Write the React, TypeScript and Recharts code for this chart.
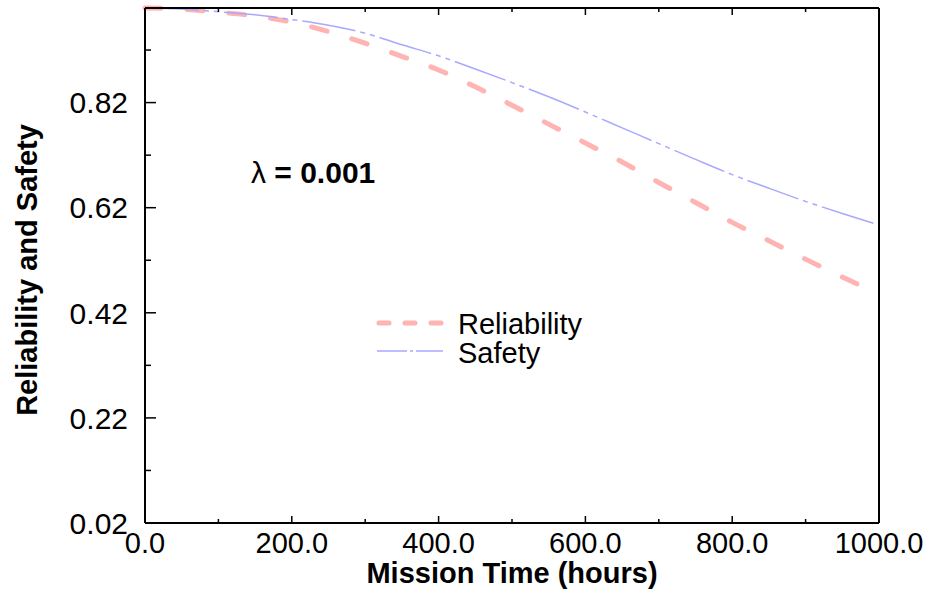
import { LineChart, Line, XAxis, YAxis, Legend } from 'recharts'

const FONT = '"Liberation Sans", Arial, Helvetica, sans-serif'
const REL_COLOR = '#ffb3b3'
const SAF_COLOR = '#a8a8ff'
const AXIS_COLOR = '#000'

// mission time, hours
const TIME = [0, 50, 100, 150, 200, 250, 300, 350, 400, 450, 500, 550, 600, 650, 700, 750, 800, 850, 900, 950, 1000]
const RELIABILITY = [1.0, 0.998, 0.992, 0.985, 0.973, 0.955, 0.933, 0.908, 0.882, 0.85, 0.815, 0.779, 0.743, 0.707, 0.668, 0.63, 0.592, 0.557, 0.522, 0.488, 0.456]
const SAFETY = [1.0, 0.998, 0.993, 0.987, 0.978, 0.967, 0.952, 0.93, 0.909, 0.884, 0.858, 0.831, 0.802, 0.772, 0.742, 0.712, 0.683, 0.657, 0.632, 0.609, 0.587]

const X_TICKS = [0, 100, 200, 300, 400, 500, 600, 700, 800, 900, 1000]
const X_MAJOR = [0, 200, 400, 600, 800, 1000]
const Y_TICKS = [0.02, 0.12, 0.22, 0.32, 0.42, 0.52, 0.62, 0.72, 0.82, 0.92]
const Y_MAJOR = [0.02, 0.22, 0.42, 0.62, 0.82]

const data = TIME.map((t, i) => ({ t, reliability: RELIABILITY[i], safety: SAFETY[i] }))

type TickProps = { x?: number; y?: number; payload?: { value: number } }

function LeftTick({ x = 0, y = 0, payload }: TickProps) {
  const v = payload?.value ?? 0
  const major = Y_MAJOR.includes(v)
  return (
    <g>
      <line x1={x} x2={x + (major ? 11 : 6)} y1={y} y2={y} stroke={AXIS_COLOR} strokeWidth={1.5} />
      {major && (
        <text x={x - 17} y={y} dy="0.36em" textAnchor="end" fontSize={30} fontFamily={FONT} fill="#000">
          {v.toFixed(2)}
        </text>
      )}
    </g>
  )
}

function RightTick({ x = 0, y = 0, payload }: TickProps) {
  const major = Y_MAJOR.includes(payload?.value ?? 0)
  return <line x1={x} x2={x - (major ? 11 : 6)} y1={y} y2={y} stroke={AXIS_COLOR} strokeWidth={1.5} />
}

function BottomTick({ x = 0, y = 0, payload }: TickProps) {
  const v = payload?.value ?? 0
  const major = X_MAJOR.includes(v)
  return (
    <g>
      <line x1={x} x2={x} y1={y} y2={y - (major ? 7 : 4)} stroke={AXIS_COLOR} strokeWidth={1.5} />
      {major && (
        <text x={x} y={y + 30} textAnchor="middle" fontSize={29} fontFamily={FONT} fill="#000">
          {v.toFixed(1)}
        </text>
      )}
    </g>
  )
}

function TopTick({ x = 0, y = 0, payload }: TickProps) {
  const major = X_MAJOR.includes(payload?.value ?? 0)
  return <line x1={x} x2={x} y1={y} y2={y + (major ? 7 : 4)} stroke={AXIS_COLOR} strokeWidth={1.5} />
}

function LegendBox() {
  return (
    <svg width={240} height={70} style={{ display: 'block' }}>
      <line x1={9} x2={73} y1={23} y2={23} stroke={REL_COLOR} strokeWidth={5} strokeLinecap="round" strokeDasharray="10 16" />
      <text x={88} y={34} fontSize={29} fontFamily={FONT} fill="#000">Reliability</text>
      <line x1={7} x2={73} y1={51} y2={51} stroke={SAF_COLOR} strokeWidth={1.5} strokeDasharray="30 3 3 3" />
      <text x={88} y={63} fontSize={29} fontFamily={FONT} fill="#000">Safety</text>
    </svg>
  )
}

const axisLine = { stroke: AXIS_COLOR, strokeWidth: 2 }

export default function App() {
  return (
    <div style={{ position: 'relative', width: 927, height: 597, background: '#fff' }}>
      <style>{'body{margin:0;background:#fff}'}</style>
      <LineChart width={927} height={597} data={data} margin={{ top: 0, right: 0, bottom: 0, left: 0 }}>
        <XAxis
          dataKey="t" type="number" domain={[0, 1000]} ticks={X_TICKS} interval={0}
          height={74} tickSize={0} tickMargin={0} tickLine={false} axisLine={axisLine}
          tick={(p: TickProps) => <BottomTick {...p} />}
        />
        <XAxis
          xAxisId="top" orientation="top" dataKey="t" type="number" domain={[0, 1000]} ticks={X_TICKS} interval={0}
          height={8} tickSize={0} tickMargin={0} tickLine={false} axisLine={axisLine}
          tick={(p: TickProps) => <TopTick {...p} />}
        />
        <YAxis
          type="number" domain={[0.02, 1.0]} ticks={Y_TICKS} interval={0}
          width={145} tickSize={0} tickMargin={0} tickLine={false} axisLine={axisLine}
          tick={(p: TickProps) => <LeftTick {...p} />}
        />
        <YAxis
          yAxisId="right" orientation="right" type="number" domain={[0.02, 1.0]} ticks={Y_TICKS} interval={0}
          width={48} tickSize={0} tickMargin={0} tickLine={false} axisLine={axisLine}
          tick={(p: TickProps) => <RightTick {...p} />}
        />
        <Legend
          layout="horizontal" verticalAlign="middle" align="center"
          wrapperStyle={{ left: 370, top: 300, width: 240 }}
          content={() => <LegendBox />}
        />
        <Line
          dataKey="reliability" type="monotone" stroke={REL_COLOR} strokeWidth={5}
          strokeLinecap="round" strokeDasharray="16 26" dot={false} activeDot={false}
          isAnimationActive={false}
        />
        <Line
          dataKey="safety" type="monotone" stroke={SAF_COLOR} strokeWidth={1.5}
          strokeDasharray="54 5 5 5 5 5" dot={false} activeDot={false}
          isAnimationActive={false}
        />
      </LineChart>
      <svg width={927} height={597} style={{ position: 'absolute', left: 0, top: 0, pointerEvents: 'none' }}>
        <text x={251} y={183} fontSize={30} fontFamily={FONT} fill="#000">
          λ<tspan fontWeight="bold"> = 0.001</tspan>
        </text>
        <text x={512} y={583} textAnchor="middle" fontSize={29} fontWeight="bold" fontFamily={FONT} fill="#000">
          Mission Time (hours)
        </text>
        <text
          x={37} y={270} textAnchor="middle" fontSize={29} fontWeight="bold" fontFamily={FONT} fill="#000"
          transform="rotate(-90 37 270)"
        >
          Reliability and Safety
        </text>
      </svg>
    </div>
  )
}
